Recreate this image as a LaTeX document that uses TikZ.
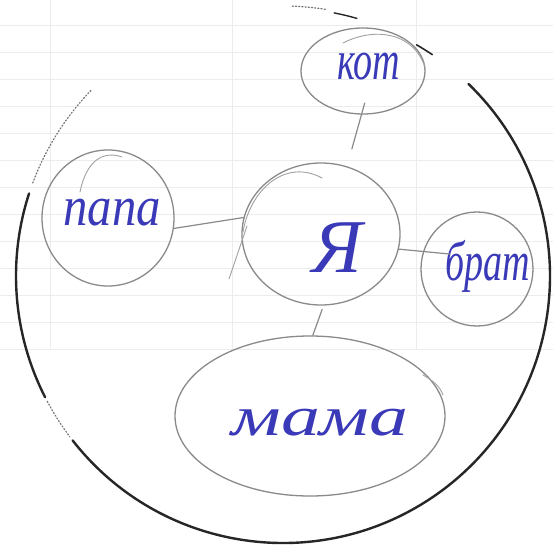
\documentclass[tikz,border=0pt]{standalone}
\usepackage{fontspec}
\setmainfont{Liberation Serif}
\usetikzlibrary{shapes.geometric}
\definecolor{pencil}{RGB}{138,138,138}
\definecolor{ink}{RGB}{58,58,185}
\definecolor{paperrule}{RGB}{234,236,238}
\begin{document}
\begin{tikzpicture}[x=1pt,y=-1pt,
  bubble/.style={ellipse, draw=pencil, line width=1.3pt, inner sep=0pt},
  word/.style={text=ink, font=\itshape\fontsize{56}{56}\selectfont},
  link/.style={draw=pencil, line width=1.2pt, line cap=round},
  extra/.style={draw=pencil!80, line width=0.9pt, line cap=round},
  rim/.style={draw=black!85, line width=2.4pt, line cap=round},
  rimfaint/.style={draw=black!55, line width=1.2pt, dotted, line cap=round}]
\useasboundingbox (0,0) rectangle (553,556);
\fill[white] (0,0) rectangle (553,556);
% ruled paper
\foreach \yy in {25,52,...,360} \draw[paperrule, line width=0.8pt] (0,\yy) -- (553,\yy);
\foreach \xx in {50,232,416} \draw[paperrule, line width=0.8pt] (\xx,0) -- (\xx,350);
% outer circle (hand drawn, with gaps)
\coordinate (c) at (283,276);
\draw[rim] (c) ++(-162:267) arc[start angle=-162, end angle=-207, radius=267];
\draw[rim] (c) ++(-218:267) arc[start angle=-218, end angle=-406, radius=267];
\draw[rimfaint] (c) ++(-136:267) arc[start angle=-136, end angle=-160, radius=267];
\draw[rimfaint] (c) ++(-208:267) arc[start angle=-208, end angle=-217, radius=267];
\draw[rim, line width=1.6pt] (c) ++(-56:267) arc[start angle=-56, end angle=-60, radius=267];
\draw[rim, line width=1.4pt] (c) ++(-74:268) arc[start angle=-74, end angle=-79, radius=268];
\draw[rimfaint] (c) ++(-81:270) arc[start angle=-81, end angle=-88, radius=270];
% nodes
\node[bubble, minimum width=124pt, minimum height=86pt,
  label={[word, xshift=6pt, yshift=4pt]center:\scalebox{0.68}[1]{кот}}] (kot) at (363,71) {};
\node[bubble, minimum width=132pt, minimum height=136pt,
  label={[word, xshift=4pt, yshift=5pt]center:\scalebox{0.87}[1]{папа}}] (papa) at (108,218) {};
\node[bubble, minimum width=158pt, minimum height=142pt,
  label={[word, font=\itshape\fontsize{76}{76}\selectfont, xshift=16pt, yshift=-14pt]center:Я}] (ya) at (321,234) {};
\node[bubble, minimum width=112pt, minimum height=114pt,
  label={[word, xshift=11pt, yshift=3pt]center:\scalebox{0.68}[1]{брат}}] (brat) at (477,269) {};
\node[bubble, minimum width=270pt, minimum height=160pt,
  label={[word, xshift=10pt, yshift=-7pt]center:\scalebox{1.39}[1]{мама}}] (mama) at (310,416) {};
% extra pencil strokes
\draw[extra] (80,192) .. controls (86,162) and (102,150) .. (122,157);
\draw[extra] (243,232) .. controls (250,190) and (285,158) .. (322,178);
\draw[extra] (247,226) -- (229,279);
\draw[extra] (343,43) .. controls (372,28) and (412,30) .. (425,67);
\draw[extra] (423,375) .. controls (432,380) and (440,386) .. (443,395);
% connectors
\draw[link] (papa.-9) -- (ya.168);
\draw[link, shorten <=-12pt, shorten >=18pt] (kot.-92) -- (ya.69);
\draw[link, shorten >=-27pt] (ya.-11) -- (brat.162);
\draw[link, shorten <=4pt] (ya.-88) -- (mama.88);
\end{tikzpicture}
\end{document}
